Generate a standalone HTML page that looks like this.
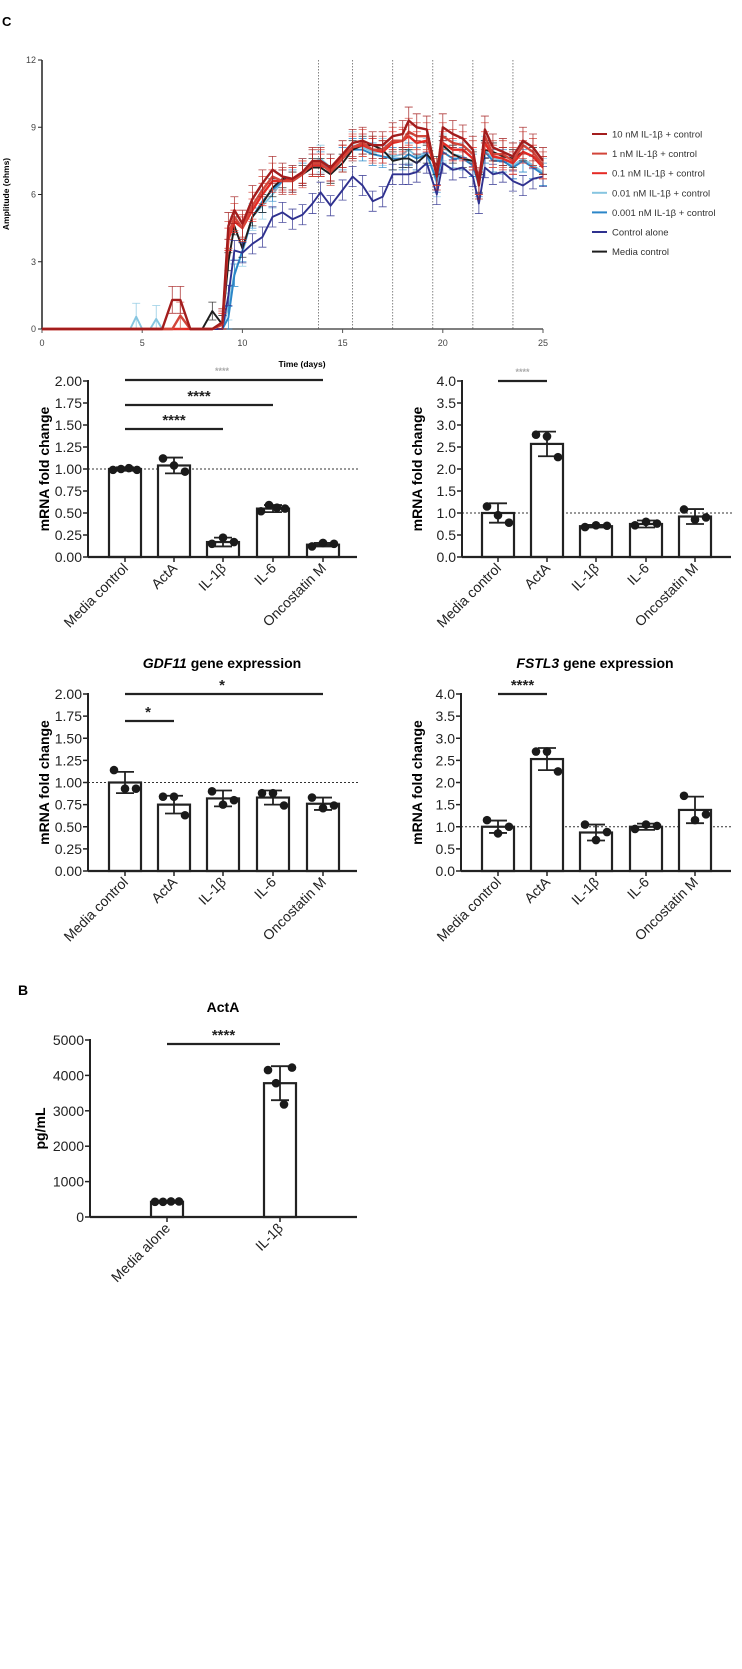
<!DOCTYPE html>
<html><head><meta charset="utf-8">
<style>
body{margin:0;background:#fff;}
svg{display:block;font-family:"Liberation Sans",Arial,sans-serif;}
</style></head>
<body>
<svg id="fig" width="742" height="1669" viewBox="0 0 742 1669" xmlns="http://www.w3.org/2000/svg">
<rect width="742" height="1669" fill="#fff"/>
<text x="2" y="26" font-size="13" font-weight="bold">C</text>
<text x="18" y="995" font-size="14" font-weight="bold">B</text>
</svg>
<script>
// ---------- Impedance time course data ----------
const days = [0,4.4,4.7,5.0,5.4,5.7,6.0,6.5,6.9,7.4,8.0,8.5,9.0,9.3,9.6,10,10.5,11,11.5,12,12.5,13,13.5,13.9,14.4,15,15.5,16,16.5,17,17.5,18,18.3,18.7,19.2,19.7,20,20.5,21,21.5,21.8,22.1,22.5,23,23.5,24,24.5,25];
const seriesNames = ["10 nM IL-1β + control","1 nM IL-1β + control","0.1 nM IL-1β + control","0.01 nM IL-1β + control","0.001 nM IL-1β + control","Control alone","Media control"];
const s10nM   = [0,0,0,0,0,0,0,1.3,1.3,0,0,0,0.3,4.6,5.3,4.7,5.8,6.5,7.1,6.8,6.7,7.0,7.5,7.5,7.2,7.8,8.3,8.4,8.2,8.2,8.6,8.7,9.3,9.0,8.9,6.8,9.0,8.7,8.5,8.0,6.4,8.9,8.1,7.9,7.7,8.4,8.1,7.5];
const s1nM    = [0,0,0,0,0,0,0,0,0.6,0,0,0,0.2,4.2,5.0,4.5,5.5,6.2,6.8,6.6,6.6,6.9,7.4,7.4,7.0,7.6,8.1,8.3,8.0,8.0,8.4,8.4,8.8,8.6,8.6,7.0,8.6,8.3,8.2,7.8,6.6,8.6,7.8,7.8,7.5,8.2,7.9,7.3];
const s01nM   = [0,0,0,0,0,0,0,0,0,0,0,0,0.2,4.0,4.8,4.5,5.3,6.0,6.6,6.6,6.7,7.0,7.3,7.3,7.1,7.7,8.1,8.2,8.0,7.9,8.3,8.4,8.6,8.3,8.4,6.9,8.3,8.0,8.0,7.6,6.5,8.3,7.7,7.6,7.4,7.9,7.7,7.2];
const s001nM  = [0,0,0.55,0,0,0.45,0,0,0,0,0,0,0,1.0,2.5,3.4,5.0,5.5,6.0,6.6,6.7,7.0,7.4,7.6,7.2,7.6,8.2,8.1,7.9,7.9,7.7,7.8,8.0,7.7,7.9,6.5,8.1,7.8,7.7,7.4,6.6,8.0,7.6,7.5,7.3,7.6,7.3,7.0];
const s0001nM = [0,0,0,0,0,0,0,0,0,0,0,0,0,0.5,2.4,3.5,5.0,5.7,6.2,6.6,6.6,6.9,7.3,7.4,7.1,7.6,8.0,8.0,7.8,7.7,7.6,7.6,7.8,7.6,7.8,6.6,7.9,7.6,7.6,7.3,6.4,7.9,7.5,7.5,7.2,7.5,7.2,6.9];
const sControl= [0,0,0,0,0,0,0,0,0,0,0,0,0,1.5,3.5,3.4,3.8,4.1,5.0,5.2,4.9,5.1,5.6,6.1,5.5,6.2,6.8,6.4,5.7,5.9,6.9,6.9,6.9,7.0,7.4,6.0,7.4,7.1,7.2,6.8,5.6,7.2,6.9,7.0,6.6,6.4,6.7,6.8];
const sMedia  = [0,0,0,0,0,0,0,0,0,0,0,0.8,0.2,3.0,4.6,3.6,5.0,5.6,6.3,6.7,6.6,6.9,7.2,7.2,6.9,7.4,8.0,8.2,8.2,8.0,7.5,7.6,7.6,7.4,7.8,7.3,8.2,7.8,7.6,7.5,6.5,8.0,7.9,7.7,7.6,7.9,7.7,7.3];
const errHalf = [0.6,0.6,0.5,0.6,0.5,0.45,0.4];
const mediaChangeDays = [13.8,15.5,17.5,19.5,21.5,23.5];
const xTicks = [0,5,10,15,20,25];
const yTicks = [0,3,6,9,12];

// ---------- Bar chart data ----------
const barCats = ["Media control","ActA","IL-1β","IL-6","Oncostatin M"];
const c1Means = [1.0,1.04,0.17,0.55,0.14];
const c1Sd = [0.02,0.09,0.05,0.04,0.02];
const c1Pts = [[0.99,1.0,1.01,0.99],[1.12,1.04,0.97],[0.15,0.22,0.17],[0.52,0.59,0.56,0.55],[0.12,0.16,0.15]];
const c2Means = [1.0,2.57,0.70,0.75,0.92];
const c2Sd = [0.22,0.28,0.03,0.08,0.17];
const c2Pts = [[1.15,0.95,0.78],[2.78,2.74,2.27],[0.68,0.72,0.71],[0.72,0.80,0.76],[1.08,0.85,0.90]];
const c3Means = [1.0,0.75,0.82,0.83,0.76];
const c3Sd = [0.12,0.10,0.09,0.08,0.07];
const c3Pts = [[1.14,0.93,0.93],[0.84,0.84,0.63],[0.90,0.75,0.80],[0.88,0.88,0.74],[0.83,0.71,0.74]];
const c4Means = [1.0,2.53,0.87,1.0,1.38];
const c4Sd = [0.14,0.25,0.18,0.07,0.30];
const c4Pts = [[1.15,0.85,1.0],[2.70,2.70,2.25],[1.05,0.70,0.88],[0.95,1.05,1.02],[1.70,1.15,1.28]];
const ticks2 = ["0.00","0.25","0.50","0.75","1.00","1.25","1.50","1.75","2.00"];
const ticks4 = ["0.0","0.5","1.0","1.5","2.0","2.5","3.0","3.5","4.0"];
const bCats = ["Media alone","IL-1β"];
const bMeans = [430,3780];
const bSd = [30,480];
const bPts = [[430,430,440,440],[4150,3780,3180,4220]];
const bTicks = ["0","1000","2000","3000","4000","5000"];

const NS="http://www.w3.org/2000/svg";
const svg=document.getElementById('fig');
function mk(tag,attrs,parent,txt){const e=document.createElementNS(NS,tag);for(const k in attrs)e.setAttribute(k,attrs[k]);if(txt!==undefined)e.textContent=txt;(parent||svg).appendChild(e);return e;}

// ---------- Line chart ----------
const L={x0:42,x1:543,y0:329,y1:60,dmax:25,vmax:12};
const xs=d=>L.x0+(d/L.dmax)*(L.x1-L.x0);
const ys=v=>L.y0-(v/L.vmax)*(L.y0-L.y1);
const lg=mk('g',{});


mediaChangeDays.forEach(d=>{
  const l=mk('line',{x1:xs(d),x2:xs(d),y1:L.y1,y2:L.y0,stroke:'#666','stroke-width':0.8,'stroke-dasharray':'1.5,1.5'},lg);
  
  
});
mk('line',{x1:L.x0,x2:L.x0,y1:L.y1,y2:L.y0,stroke:'#222','stroke-width':1.5},lg);
mk('line',{x1:L.x0,x2:L.x1,y1:L.y0,y2:L.y0,stroke:'#555','stroke-width':1.5},lg);
yTicks.forEach(v=>{
  mk('line',{x1:L.x0-4,x2:L.x0,y1:ys(v),y2:ys(v),stroke:'#222','stroke-width':1},lg);
  const t=mk('text',{x:L.x0-6,y:ys(v)+3,'font-size':9,'text-anchor':'end',fill:'#444'},lg,String(v));
  
  
});
xTicks.forEach(v=>{
  mk('line',{x1:xs(v),x2:xs(v),y1:L.y0,y2:L.y0+4,stroke:'#555','stroke-width':1},lg);
  const t=mk('text',{x:xs(v),y:L.y0+17,'font-size':9,'text-anchor':'middle',fill:'#444'},lg,String(v));
  
  
});
const xt=mk('text',{x:302,y:367,'font-size':8.5,'font-weight':'bold','text-anchor':'middle'},lg,'Time (days)');


const yt=mk('text',{x:9,y:194,'font-size':8.5,'font-weight':'bold','text-anchor':'middle',transform:'rotate(-90 9 194)'},lg,'Amplitude (ohms)');


const seriesVals=[s10nM,s1nM,s01nM,s001nM,s0001nM,sControl,sMedia];
const colors=['#a31d1d','#d2453a','#e52a24','#86c5e0','#2b86c8','#2f318f','#1d1d1d'];
const drawOrder=[3,4,6,5,2,1,0];
drawOrder.forEach(i=>{
  const vals=seriesVals[i];
  const g=mk('g',{},lg);
  
  
  vals.forEach((v,k)=>{
    if(v<=0.05)return;
    const x=xs(days[k]),yT=ys(v+errHalf[i]),yB=ys(Math.max(0,v-errHalf[i]));
    mk('path',{d:`M${x},${yT}V${yB}M${x-4},${yT}H${x+4}M${x-4},${yB}H${x+4}`,stroke:colors[i],'stroke-width':0.8,fill:'none',opacity:0.85},g);
  });
  const pts=vals.map((v,k)=>xs(days[k]).toFixed(1)+','+ys(v).toFixed(1)).join(' ');
  const pl=mk('polyline',{points:pts,fill:'none',stroke:colors[i],'stroke-width':i<3?2.4:1.9,'stroke-linejoin':'round'},g);
  
  
});
const legendOrder=[0,1,2,3,4,5,6];
legendOrder.forEach((i,r)=>{
  const y=134+r*19.6;
  const g=mk('g',{},svg);
  
  
  mk('line',{x1:592,x2:607,y1:y,y2:y,stroke:colors[i],'stroke-width':2},g);
  mk('text',{x:612,y:y+3.5,'font-size':9.5,fill:'#333'},g,seriesNames[i]);
});

// ---------- Bar charts ----------
function barChart(o){
  const g=mk('g',{});
  
  
  const yv=v=>o.yBot-(v/o.vmax)*(o.yBot-o.yTop);
  if(o.title){const t=mk('text',{x:o.titleX,y:o.titleY,'font-size':14,'font-weight':'bold','text-anchor':'middle'},g);
    
    if(o.italic){mk('tspan',{'font-style':'italic'},t,o.italic);}mk('tspan',{},t,o.title);}
  // ticks
  o.ticks.forEach((lab,k)=>{
    const v=o.vmax*k/(o.ticks.length-1);
    mk('line',{x1:o.ax-5,x2:o.ax,y1:yv(v),y2:yv(v),stroke:'#222','stroke-width':1.5},g);
    const t=mk('text',{x:o.ax-6,y:yv(v)+5,'font-size':14,'text-anchor':'end',fill:'#222'},g,lab);
    
    
  });
  const yl=mk('text',{x:o.ylx,y:(o.yTop+o.yBot)/2,'font-size':14,'font-weight':'bold','text-anchor':'middle',transform:`rotate(-90 ${o.ylx} ${(o.yTop+o.yBot)/2})`},g,o.ylabel);
  
  
  if(o.ref!==undefined)mk('line',{x1:o.ax,x2:o.aend+2,y1:yv(o.ref),y2:yv(o.ref),stroke:'#333','stroke-width':1,'stroke-dasharray':'2,2'},g);
  o.means.forEach((m,i)=>{
    const cx=o.cx[i];
    const b=mk('rect',{x:cx-o.bw/2,y:yv(m),width:o.bw,height:o.yBot-yv(m),fill:'#fff',stroke:'#222','stroke-width':2.2},g);
    
    
    const t=yv(m+o.sd[i]),bo=yv(Math.max(0,m-o.sd[i]));
    mk('path',{d:`M${cx},${t}V${bo}M${cx-9},${t}H${cx+9}M${cx-9},${bo}H${cx+9}`,stroke:'#222','stroke-width':1.8,fill:'none'},g);
    const n=o.pts[i].length;
    o.pts[i].forEach((p,j)=>{
      const dx=n===4?(j-1.5)*8:(j-1)*11;
      const c=mk('circle',{cx:cx+dx,cy:yv(p),r:4.3,fill:'#1a1a1a'},g);
      
      
    });
    mk('line',{x1:cx,x2:cx,y1:o.yBot,y2:o.yBot+5,stroke:'#222','stroke-width':1.5},g);
    const lx=cx+4,ly=o.yBot+12;
    const lt=mk('text',{x:lx,y:ly,'font-size':14,'text-anchor':'end',fill:'#222',transform:`rotate(-45 ${lx} ${ly})`},g,o.cats[i]);
    
    
  });
  mk('line',{x1:o.ax,x2:o.ax,y1:o.yTop-1,y2:o.yBot,stroke:'#222','stroke-width':2},g);
  mk('line',{x1:o.ax,x2:o.aend,y1:o.yBot,y2:o.yBot,stroke:'#222','stroke-width':2.2},g);
  (o.sig||[]).forEach(s=>{
    const l=mk('line',{x1:o.cx[s.a],x2:o.cx[s.b],y1:s.y,y2:s.y,stroke:'#222','stroke-width':2.2},g);
    
    
    const st=mk('text',{x:s.tx!==undefined?s.tx:(o.cx[s.a]+o.cx[s.b])/2,y:s.y-(s.faint?6:4),'font-size':s.faint?9:15,'font-weight':'bold','text-anchor':'middle',fill:s.faint?'#aaa':'#222'},g,s.label);
    
    
  });
}
const cxL=[125,174,223,273,323], cxR=[498,547,596,646,695];
barChart({name:'acta-expression-chart',cats:barCats,means:c1Means,sd:c1Sd,pts:c1Pts,vmax:2,ticks:ticks2,yTop:381,yBot:557,ax:88,aend:357,cx:cxL,bw:32,ylx:49,ylabel:'mRNA fold change',ref:1,
  sig:[{a:0,b:4,y:380,label:'****',faint:true,tx:222},{a:0,b:3,y:405,label:'****'},{a:0,b:2,y:429,label:'****'}]});
barChart({name:'row1-right-expression-chart',cats:barCats,means:c2Means,sd:c2Sd,pts:c2Pts,vmax:4,ticks:ticks4,yTop:381,yBot:557,ax:462,aend:731,cx:cxR,bw:32,ylx:422,ylabel:'mRNA fold change',ref:1,
  sig:[{a:0,b:1,y:381,label:'****',faint:true}]});
barChart({name:'gdf11-expression-chart',cats:barCats,means:c3Means,sd:c3Sd,pts:c3Pts,vmax:2,ticks:ticks2,yTop:694,yBot:871,ax:88,aend:357,cx:cxL,bw:32,ylx:49,ylabel:'mRNA fold change',ref:1,
  title:' gene expression',italic:'GDF11',titleX:222,titleY:668,
  sig:[{a:0,b:4,y:694,label:'*',tx:222},{a:0,b:1,y:721,label:'*',tx:148}]});
barChart({name:'fstl3-expression-chart',cats:barCats,means:c4Means,sd:c4Sd,pts:c4Pts,vmax:4,ticks:ticks4,yTop:694,yBot:871,ax:461,aend:731,cx:cxR,bw:32,ylx:422,ylabel:'mRNA fold change',ref:1,
  title:' gene expression',italic:'FSTL3',titleX:595,titleY:668,
  sig:[{a:0,b:1,y:694,label:'****'}]});
barChart({name:'acta-protein-chart',cats:bCats,means:bMeans,sd:bSd,pts:bPts,vmax:5000,ticks:bTicks,yTop:1040,yBot:1217,ax:90,aend:357,cx:[167,280],bw:32,ylx:45,ylabel:'pg/mL',
  title:'ActA',titleX:223,titleY:1012,
  sig:[{a:0,b:1,y:1044,label:'****'}]});
</script>
</body></html>
